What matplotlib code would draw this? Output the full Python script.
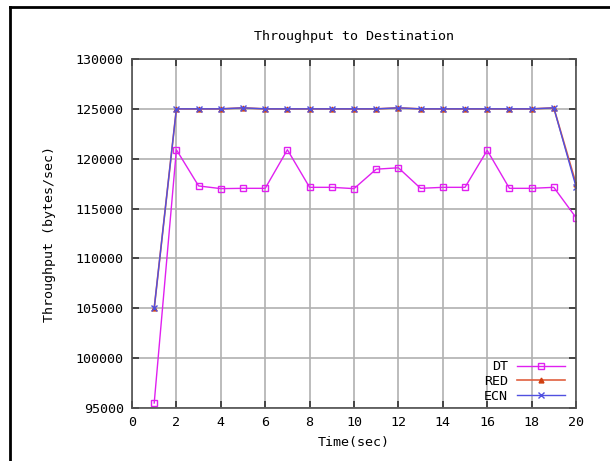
import matplotlib
matplotlib.use("Agg")
import matplotlib.pyplot as plt
from matplotlib.lines import Line2D

time = [1, 2, 3, 4, 5, 6, 7, 8, 9, 10, 11, 12, 13, 14, 15, 16, 17, 18, 19, 20]
dt = [95500, 120900, 117270, 117000, 117030, 117030, 120900, 117130, 117130, 117000,
      118950, 119090, 117030, 117130, 117130, 120840, 117030, 117030, 117130, 114100]
red = [105000, 125000, 125000, 125000, 125100, 125000, 125000, 125000, 125000, 125000,
       125000, 125100, 125000, 125000, 125000, 125000, 125000, 125000, 125100, 117500]
ecn = [105000, 125000, 125000, 125000, 125100, 125000, 125000, 125000, 125000, 125000,
       125000, 125100, 125000, 125000, 125000, 125000, 125000, 125000, 125100, 117200]
xticks = list(range(0, 21, 2))
yticks = list(range(95000, 130001, 5000))

mono = "DejaVu Sans Mono"
plt.rcParams['font.family'] = mono
fs = 9.6

fig = plt.figure(figsize=(6.10, 4.61), dpi=100)
ax = fig.add_axes([132/610, 1-408/461, 444/610, 349/461])

ax.plot(time, dt, color="#e020f0", lw=1, marker="s", ms=4.5, mfc="none", mec="#e020f0", mew=1, label="DT")
ax.plot(time, red, color="#e06040", lw=1.2, marker="^", ms=3.5, mfc="#d04010", mec="#d04010", label="RED")
ax.plot(time, ecn, color="#5050e0", lw=1, marker="x", ms=4.5, mew=1, label="ECN")

ax.set_xlim(0, 20)
ax.set_ylim(95000, 130000)
ax.set_xticks(xticks)
ax.set_yticks(yticks)
ax.grid(True, color="#b0b0b0", lw=1.2)
ax.set_axisbelow(True)
ax.tick_params(direction="in", length=5, width=1.2, color="#303030", labelsize=fs,
               top=True, right=True, pad=6)
for s in ax.spines.values():
    s.set_color("#505050")
    s.set_linewidth(1.2)

ax.set_title("Throughput to Destination", fontsize=fs, pad=14)
ax.set_xlabel("Time(sec)", fontsize=fs, labelpad=5)
ax.set_ylabel("Throughput (bytes/sec)", fontsize=fs, labelpad=14)

leg = ax.legend(loc="lower right", frameon=False, markerfirst=False, fontsize=fs,
                handlelength=3.6, handletextpad=0.7, labelspacing=0.12,
                borderaxespad=0.0, bbox_to_anchor=(0.988, 0.0))
for t in leg.get_texts():
    t.set_ha("right")

# outer black frame (top and left)
fig.add_artist(Line2D([10/610, 10/610], [0, 1-7/461], color="black", lw=2, transform=fig.transFigure))
fig.add_artist(Line2D([10/610, 1], [1-7/461, 1-7/461], color="black", lw=2, transform=fig.transFigure))

fig.savefig("out.png", dpi=100)
